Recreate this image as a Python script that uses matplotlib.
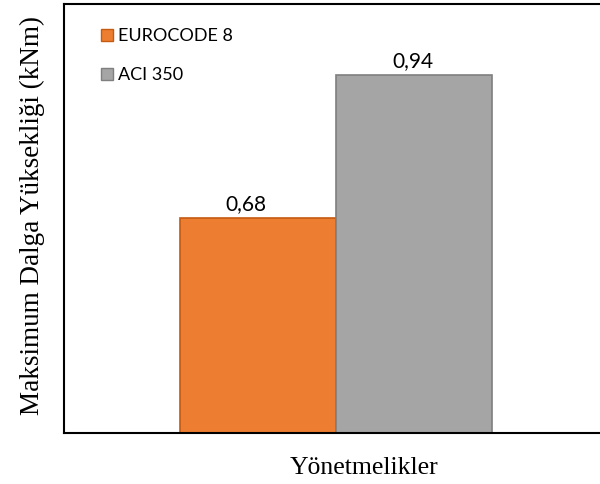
import matplotlib
matplotlib.use('Agg')
import matplotlib.pyplot as plt
from matplotlib.patches import Patch

series = ['EUROCODE 8', 'ACI 350']
values = [0.68, 0.94]
value_labels = ['0,68', '0,94']
colors = ['#ED7D31', '#A5A5A5']
edges = ['#C55A11', '#7F7F7F']

fig = plt.figure(figsize=(6, 4.84), dpi=100)
ax = fig.add_axes([64 / 600, 51 / 484, 544 / 600, 429 / 484])

w = 0.287
xs = [-w / 2, w / 2]
bars = ax.bar(xs, values, width=w, color=colors, edgecolor=edges, linewidth=1.2)
# value labels sit a little left of the bar centre
shifts = [-9, -1]
for b, lab, dx in zip(bars, value_labels, shifts):
    ax.annotate(lab, (b.get_x() + b.get_width() / 2, b.get_height()),
                xytext=(dx, 3), textcoords='offset points',
                ha='center', va='bottom', fontsize=15, family='Lato')

ax.set_xlim(-0.5, 0.5)
ax.set_ylim(0.289, 1.069)
ax.set_xticks([])
ax.set_yticks([])
for s in ax.spines.values():
    s.set_linewidth(1.5)
    s.set_color('black')
ax.spines['right'].set_visible(False)

ax.set_ylabel('Maksimum Dalga Yüksekliği (kNm)', family='Liberation Serif', fontsize=19.5)
ax.yaxis.set_label_coords(-0.035, 0.506)
ax.set_xlabel('Yönetmelikler', family='Liberation Serif', fontsize=18.5)
ax.xaxis.set_label_coords(0.551, -0.056)

handles = [Patch(facecolor=c, edgecolor=e, label=s) for s, c, e in zip(series, colors, edges)]
ax.legend(handles=handles, loc='upper left', bbox_to_anchor=(0.038, 0.981), frameon=False,
          prop={'family': 'Lato', 'size': 13}, handlelength=0.65, handleheight=0.65,
          handletextpad=0.3, labelspacing=1.25)

fig.savefig('out.png', dpi=100)
